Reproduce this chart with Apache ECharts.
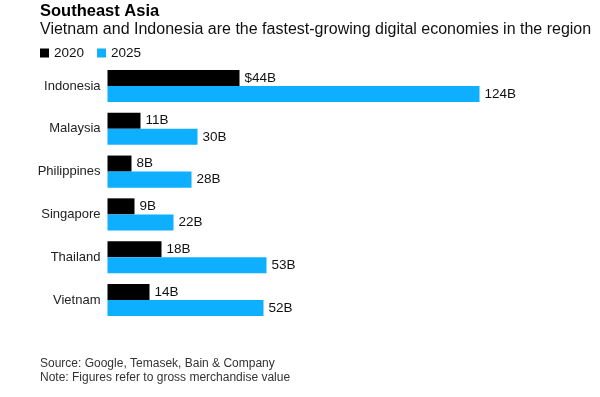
<!DOCTYPE html>
<html>
<head>
<meta charset="utf-8">
<script src="https://cdn.jsdelivr.net/npm/echarts@6/dist/echarts.min.js"></script>
<style>
  html, body { margin: 0; padding: 0; background: #fff; }
  #chart { width: 600px; height: 397px; }
</style>
</head>
<body>
<div id="chart"></div>
<script>
// data (US$ billions, gross merchandise value)
const countries = ["Indonesia", "Malaysia", "Philippines", "Singapore", "Thailand", "Vietnam"];
const gmv2020 = [44, 11, 8, 9, 18, 14];
const gmv2025 = [124, 30, 28, 22, 53, 52];
const seriesNames = ["2020", "2025"];

const font = "'Liberation Sans', Arial, sans-serif";

const barLabel = {
  show: true,
  position: "right",
  distance: 5,
  fontFamily: font,
  fontSize: 13.5,
  color: "#111"
};

const chart = echarts.init(document.getElementById("chart"), null, { renderer: "canvas" });
chart.setOption({
  backgroundColor: "#fff",
  animation: false,
  color: ["#000000", "#0fafff"],
  title: [
    {
      text: "Southeast Asia",
      left: 35,
      top: -2,
      textStyle: { fontFamily: font, fontSize: 16.5, fontWeight: "bold", color: "#000" }
    },
    {
      text: "Vietnam and Indonesia are the fastest-growing digital economies in the region",
      left: 35,
      top: 17,
      textStyle: { fontFamily: font, fontSize: 16, fontWeight: "normal", color: "#111" }
    },
    {
      text: "Source: Google, Temasek, Bain & Company\nNote: Figures refer to gross merchandise value",
      left: 35,
      top: 352,
      textStyle: { fontFamily: font, fontSize: 12, fontWeight: "normal", color: "#333", lineHeight: 14 }
    }
  ],
  legend: {
    data: seriesNames,
    left: 35,
    top: 41,
    icon: "rect",
    itemWidth: 9,
    itemHeight: 9,
    itemGap: 13,
    textStyle: { fontFamily: font, fontSize: 13.5, color: "#111" }
  },
  grid: {
    left: 107.5,
    right: 42.5,
    top: 64.6,
    height: 256.8,
    containLabel: false
  },
  xAxis: {
    type: "value",
    min: 0,
    max: 150,
    show: false
  },
  yAxis: {
    type: "category",
    data: countries,
    inverse: true,
    axisLine: { show: false },
    axisTick: { show: false },
    axisLabel: { fontFamily: font, fontSize: 13, color: "#222", margin: 7 }
  },
  series: [
    {
      name: seriesNames[0],
      type: "bar",
      data: gmv2020,
      barGap: "0%",
      barCategoryGap: "25%",
      label: Object.assign({}, barLabel, {
        formatter: p => (p.dataIndex === 0 ? "$" : "") + p.value + "B"
      })
    },
    {
      name: seriesNames[1],
      type: "bar",
      data: gmv2025,
      barGap: "0%",
      barCategoryGap: "25%",
      label: Object.assign({}, barLabel, { formatter: "{c}B" })
    }
  ]
});
</script>
</body>
</html>
